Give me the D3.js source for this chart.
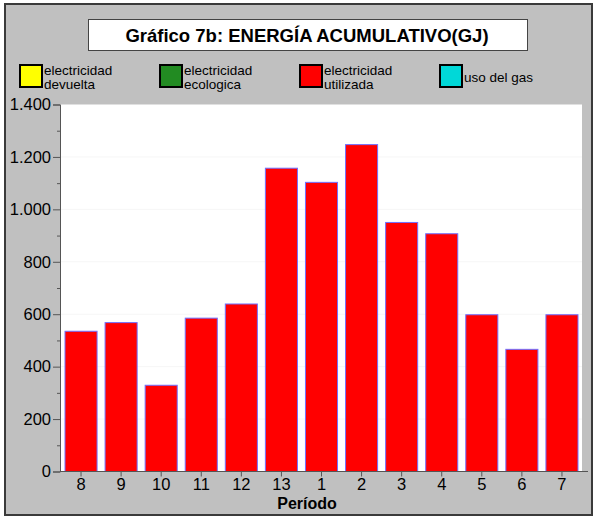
<!DOCTYPE html>
<html>
<head>
<meta charset="utf-8">
<script src="https://cdn.jsdelivr.net/npm/d3@7"></script>
<style>
  body { margin: 0; background: #fff; }
  text { font-family: "Liberation Sans", Arial, sans-serif; }
</style>
</head>
<body>
<script>
// data
const periodos = ["8", "9", "10", "11", "12", "13", "1", "2", "3", "4", "5", "6", "7"];
const electricidadUtilizada = [535, 568, 329, 585, 639, 1157, 1103, 1247, 950, 907, 598, 466, 598];
const legendNames = [["electricidad", "devuelta"], ["electricidad", "ecologica"], ["electricidad", "utilizada"], ["uso del gas"]];
const legendColors = ["#ffff00", "#228b22", "#ff0000", "#00d8d8"];
const yTicks = [0, 200, 400, 600, 800, 1000, 1200, 1400];

const W = 595, H = 518;

const svg = d3.select('body')
    .append('svg')
    .attr('width', W)
    .attr('height', H);

// outer frame
svg.append('rect')
    .attr('x', 5).attr('y', 4)
    .attr('width', 587).attr('height', 511)
    .attr('fill', '#c0c0c0')
    .attr('stroke', '#3a3a3a')
    .attr('stroke-width', 2);

// title box
svg.append('rect')
    .attr('x', 88.5).attr('y', 19.5)
    .attr('width', 439).attr('height', 31)
    .attr('fill', '#fff')
    .attr('stroke', '#444')
    .attr('stroke-width', 1);

svg.append('text')
    .attr('x', 307).attr('y', 42)
    .attr('text-anchor', 'middle')
    .attr('font-size', 18.5)
    .attr('font-weight', 'bold')
    .text('Gráfico 7b: ENERGÍA ACUMULATIVO(GJ)');

// legend
const leg = svg.selectAll('g.leg')
    .data(legendNames)
    .join('g')
    .attr('class', 'leg')
    .attr('transform', (d, i) => `translate(${19 + i * 140},64)`);

leg.append('rect')
    .attr('x', 1).attr('y', 1)
    .attr('width', 22).attr('height', 22)
    .attr('fill', (d, i) => legendColors[i])
    .attr('stroke', '#000')
    .attr('stroke-width', 2);

leg.each(function (d) {
    const g = d3.select(this);
    d.forEach((line, j) => {
        g.append('text')
            .attr('x', 25)
            .attr('y', d.length === 1 ? 18 : 11 + j * 14)
            .attr('font-size', 13.5)
            .text(line);
    });
});

// plot
const pLeft = 61, pRight = 582, pTop = 104.5, pBottom = 471.5;

const x = d3.scaleBand()
    .domain(periodos)
    .range([pLeft, pRight])
    .paddingInner(0.2)
    .paddingOuter(0.1);

const y = d3.scaleLinear()
    .domain([0, 1400])
    .range([pBottom, pTop]);

svg.append('rect')
    .attr('x', pLeft).attr('y', pTop)
    .attr('width', pRight - pLeft).attr('height', pBottom - pTop)
    .attr('fill', '#fff');

// faint grid
svg.append('g')
    .selectAll('line')
    .data(yTicks.slice(1, -1))
    .join('line')
    .attr('x1', pLeft).attr('x2', pRight)
    .attr('y1', d => y(d)).attr('y2', d => y(d))
    .attr('stroke', '#f6f6f6');

// bars
svg.append('g')
    .selectAll('rect')
    .data(electricidadUtilizada)
    .join('rect')
    .attr('x', (d, i) => x(periodos[i]))
    .attr('y', d => y(d))
    .attr('width', x.bandwidth())
    .attr('height', d => y(0) - y(d))
    .attr('fill', '#ff0000')
    .attr('stroke', '#7070ff')
    .attr('stroke-width', 1);

// y axis
const locale = d3.formatLocale({ decimal: ",", thousands: ".", grouping: [3], currency: ["", "€"] });

const yAxis = svg.append('g')
    .attr('transform', `translate(${pLeft - 1},0)`)
    .call(d3.axisLeft(y).tickValues(yTicks).tickSize(7).tickPadding(2).tickFormat(locale.format(",d")));
yAxis.select('.domain').attr('stroke', '#555');
yAxis.selectAll('.tick line').attr('stroke', '#555');
yAxis.selectAll('text').attr('font-size', 16.5).attr('fill', '#000').attr('font-family', '"Liberation Sans", Arial, sans-serif');

svg.append('g')
    .attr('transform', `translate(${pLeft - 1},0)`)
    .call(d3.axisLeft(y).tickValues(d3.range(100, 1400, 200)).tickSize(3).tickFormat(''))
    .call(g => g.select('.domain').remove())
    .selectAll('.tick line').attr('stroke', '#555');

// x axis
const xAxis = svg.append('g')
    .attr('transform', `translate(0,${pBottom})`)
    .call(d3.axisBottom(x).tickSize(5).tickSizeOuter(0).tickPadding(2));
xAxis.select('.domain').remove();
xAxis.selectAll('.tick line').attr('stroke', '#555');
xAxis.selectAll('text').attr('font-size', 16.5).attr('fill', '#000').attr('font-family', '"Liberation Sans", Arial, sans-serif');

svg.append('line')
    .attr('x1', pLeft - 1).attr('x2', 588)
    .attr('y1', pBottom).attr('y2', pBottom)
    .attr('stroke', '#555');

svg.append('text')
    .attr('x', 307).attr('y', 509)
    .attr('text-anchor', 'middle')
    .attr('font-size', 16)
    .attr('font-weight', 'bold')
    .text('Período');
</script>
</body>
</html>
